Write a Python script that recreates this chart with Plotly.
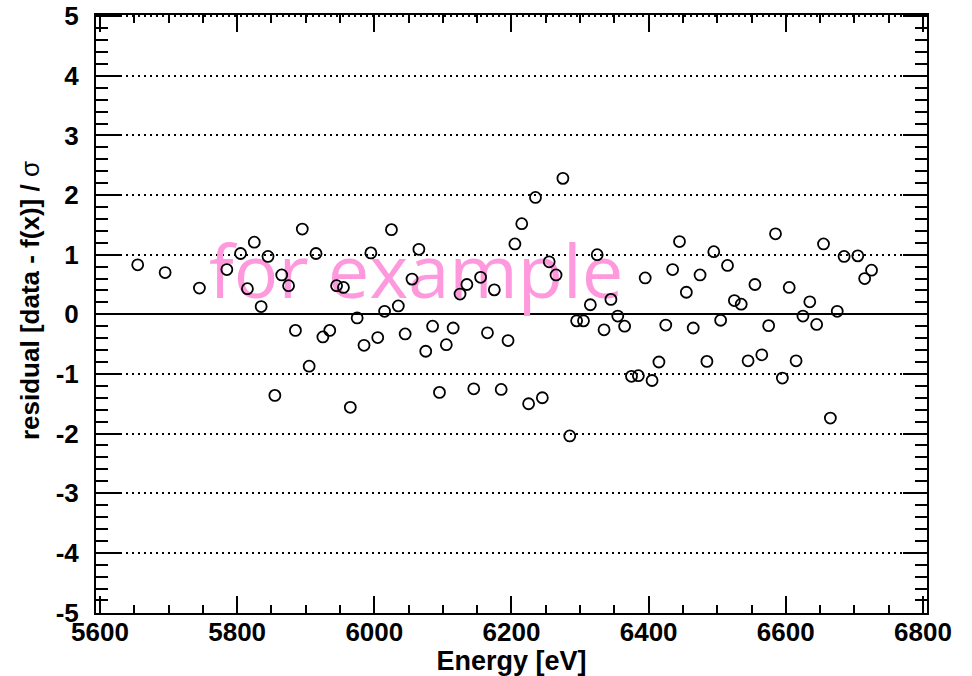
import plotly.graph_objects as go

energy = [5655, 5695, 5745, 5785, 5805, 5815, 5825, 5835, 5845, 5855,
          5865, 5875, 5885, 5895, 5905, 5915, 5925, 5935, 5945, 5955,
          5965, 5975, 5985, 5995, 6005, 6015, 6025, 6035, 6045, 6055,
          6065, 6075, 6085, 6095, 6105, 6115, 6125, 6135, 6145, 6155,
          6165, 6175, 6185, 6195, 6205, 6215, 6225, 6235, 6245, 6255,
          6265, 6275, 6285, 6295, 6305, 6315, 6325, 6335, 6345, 6355,
          6365, 6375, 6385, 6395, 6405, 6415, 6425, 6435, 6445, 6455,
          6465, 6475, 6485, 6495, 6505, 6515, 6525, 6535, 6545, 6555,
          6565, 6575, 6585, 6595, 6605, 6615, 6625, 6635, 6645, 6655,
          6665, 6675, 6685, 6705, 6715, 6725]
residual = [0.83, 0.70, 0.44, 0.75, 1.02, 0.43, 1.21, 0.13, 0.97, -1.36,
            0.66, 0.48, -0.27, 1.43, -0.87, 1.02, -0.38, -0.27, 0.48, 0.45,
            -1.56, -0.06, -0.52, 1.03, -0.39, 0.05, 1.42, 0.14, -0.33, 0.59,
            1.09, -0.62, -0.20, -1.31, -0.51, -0.23, 0.34, 0.50, -1.25, 0.62,
            -0.31, 0.41, -1.26, -0.44, 1.18, 1.52, -1.50, 1.96, -1.40, 0.88,
            0.66, 2.28, -2.04, -0.11, -0.11, 0.16, 1.00, -0.26, 0.25, -0.03,
            -0.20, -1.04, -1.03, 0.61, -1.11, -0.80, -0.18, 0.75, 1.22, 0.37,
            -0.23, 0.66, -0.79, 1.05, -0.10, 0.82, 0.23, 0.17, -0.78, 0.50,
            -0.68, -0.19, 1.35, -1.07, 0.45, -0.78, -0.03, 0.21, -0.17, 1.18,
            -1.74, 0.05, 0.97, 0.98, 0.60, 0.74]

x_ticks = [5600, 5800, 6000, 6200, 6400, 6600, 6800]
y_ticks = [-5, -4, -3, -2, -1, 0, 1, 2, 3, 4, 5]
y_tick_labels = ["-5", "-4", "-3", "-2", "-1", "0", "1", "2", "3", "4", "5"]

FONT = "Liberation Sans, Arial, Helvetica, sans-serif"

fig = go.Figure()

# watermark (drawn first so the markers sit on top of it)
fig.add_trace(go.Scatter(
    x=[6061], y=[0.59], mode="text", text=["for example"],
    textposition="middle center",
    textfont=dict(family="Open Sans, Noto Sans, sans-serif", size=74, color="#ff99dd"),
    hoverinfo="skip", showlegend=False, cliponaxis=False,
))

fig.add_trace(go.Scatter(
    x=energy, y=residual, mode="markers",
    marker=dict(symbol="circle-open", size=11, color="black",
                line=dict(color="black", width=1.8)),
    showlegend=False,
))

axis_common = dict(
    showline=True, linecolor="black", linewidth=2, mirror="allticks",
    ticks="inside", tickcolor="black", tickwidth=1.5, automargin=False,
    tickfont=dict(family=FONT, size=26, color="black", weight="bold"),
)

fig.update_xaxes(
    range=[5594.2, 6805.9], tickvals=x_ticks, ticklen=17,
    showgrid=False, zeroline=False,
    minor=dict(ticks="inside", dtick=50, tick0=5600, ticklen=8,
               tickwidth=1.5, tickcolor="black", showgrid=False),
    ticklabelstandoff=-5,
    title=dict(text="Energy [eV]",
               font=dict(family=FONT, size=27, color="black", weight="bold"),
               standoff=7),
    **axis_common,
)

fig.update_yaxes(
    range=[-5.01, 5.02], tickvals=y_ticks, ticktext=y_tick_labels, ticklen=24,
    showgrid=True, gridcolor="black", gridwidth=1.5, griddash="2px,4px",
    zeroline=True, zerolinecolor="black", zerolinewidth=1.5,
    minor=dict(ticks="inside", dtick=0.2, tick0=0, ticklen=12,
               tickwidth=1.5, tickcolor="black", showgrid=False),
    ticklabelstandoff=10,
    **axis_common,
)

fig.add_annotation(
    text="residual [data - f(x)] / <span style='font-weight:normal'>σ</span>",
    xref="paper", yref="paper", x=-0.0794, y=0.5217,
    xanchor="center", yanchor="middle", textangle=-90, showarrow=False,
    font=dict(family=FONT, size=26, color="black", weight="bold"),
)

fig.update_layout(
    width=972, height=676,
    margin=dict(l=96, r=45, t=15, b=63),
    paper_bgcolor="white", plot_bgcolor="white",
)

fig.write_html("out.html")
